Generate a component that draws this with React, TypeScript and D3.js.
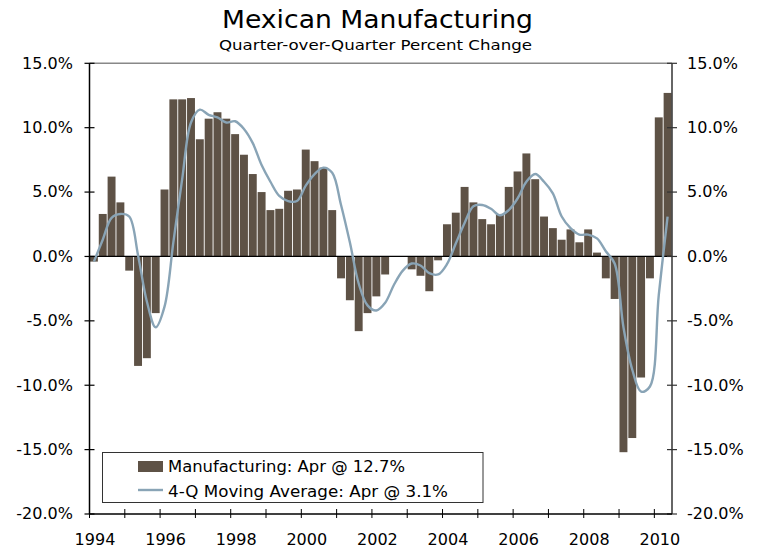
import React from 'react';
import * as d3 from 'd3';

const title = 'Mexican Manufacturing';
const subtitle = 'Quarter-over-Quarter Percent Change';
const startYear = 1994;
const xTickYears = [1994, 1996, 1998, 2000, 2002, 2004, 2006, 2008, 2010];
const minorTickYears = [1994, 1995, 1996, 1997, 1998, 1999, 2000, 2001, 2002, 2003, 2004, 2005, 2006, 2007, 2008, 2009, 2010];
const yTicks = [15, 10, 5, 0, -5, -10, -15, -20];
const legendLabels = ['Manufacturing: Apr @ 12.7%', '4-Q Moving Average: Apr @ 3.1%'];

// Quarterly values, 1994Q1 .. 2010Q2
const manufacturing = [
  -0.4, 3.3, 6.2, 4.2,
  -1.1, -8.5, -7.9, -4.4,
  5.2, 12.2, 12.2, 12.3,
  9.1, 10.7, 11.2, 10.7,
  9.5, 7.9, 6.4, 5.0,
  3.6, 3.7, 5.1, 5.2,
  8.3, 7.4, 6.9, 3.6,
  -1.7, -3.4, -5.8, -4.4,
  -3.1, -1.4, 0.0, 0.0,
  -1.0, -1.5, -2.7, -0.3,
  2.5, 3.4, 5.4, 4.2,
  2.9, 2.5, 3.3, 5.4,
  6.6, 8.0, 6.0, 3.1,
  2.2, 1.3, 2.1, 1.1,
  2.1, 0.3, -1.7, -3.3,
  -15.2, -14.1, -9.4, -1.7,
  10.8, 12.7,
];

const movingAverage = [
  -0.4, 1.3, 3.0, 3.3,
  3.1, 0.1, -3.5, -5.5,
  -3.9, 1.1, 6.0, 10.4,
  11.4, 11.0, 10.8, 10.4,
  10.5, 9.9, 8.8, 7.1,
  5.8, 4.7, 4.3, 4.3,
  5.5, 6.4, 6.9, 6.5,
  4.0, 1.1, -2.1, -3.8,
  -4.2, -3.6, -2.2, -1.1,
  -0.55, -0.7, -1.3, -1.4,
  -0.6, 1.0, 2.6, 3.9,
  4.0, 3.7, 3.2, 3.6,
  4.5, 5.8, 6.4, 5.8,
  4.9, 3.1, 2.2, 1.7,
  1.7, 1.4, 0.4, -0.55,
  -5.5, -8.8, -10.5, -10.1,
  -3.0, 3.1,
];

const BAR = '#5e5246';
const LINE = '#89a4b6';
const FONT = '"DejaVu Sans", Verdana, sans-serif';

export default function App() {
  const W = 761, H = 548;
  const left = 89.5, right = 672, top = 63.3, bottom = 514;
  const n = manufacturing.length;
  const x = d3.scaleLinear().domain([0, n]).range([left, right]);
  const y = d3.scaleLinear().domain([-20, 15]).range([bottom, top]);
  const bw = (right - left) / n;
  const lineGen = d3.line<number>()
    .x((_, i) => x(i + 0.5))
    .y((d) => y(d))
    .curve(d3.curveCatmullRom.alpha(0.5));
  const qx = (yr: number) => x((yr - startYear) * 4);
  const fmt = (v: number) => v.toFixed(1) + '%';
  const axisFont = 15;
  const axisSx = 1.07;

  return (
    <svg width={W} height={H} style={{ position: 'absolute', left: 0, top: 0, background: '#fff' }} fontFamily={FONT}>
      <rect x={0} y={0} width={W} height={H} fill="#fff" />
      <text x={222} y={28} fontSize={25} fill="#000" textLength={311} lengthAdjust="spacingAndGlyphs">{title}</text>
      <text x={219} y={49.5} fontSize={14.5} fill="#000" textLength={313} lengthAdjust="spacingAndGlyphs">{subtitle}</text>

      {/* top border */}
      <line x1={left} x2={right} y1={top} y2={top} stroke="#888" strokeWidth={1.5} />

      {/* bars */}
      {manufacturing.map((v, i) => (
        <rect key={i} x={x(i) + 0.45} width={bw - 0.9} y={Math.min(y(v), y(0))} height={Math.abs(y(v) - y(0))} fill={BAR} />
      ))}

      {/* zero line */}
      <line x1={left} x2={right} y1={y(0)} y2={y(0)} stroke="#000" strokeWidth={1.3} />

      {/* moving average */}
      <path d={lineGen(movingAverage) || ''} fill="none" stroke={LINE} strokeWidth={2.4} strokeLinejoin="round" />

      {/* left axis */}
      <line x1={left} x2={left} y1={top} y2={bottom} stroke="#000" strokeWidth={1.5} />
      {yTicks.map((t) => (
        <g key={'l' + t}>
          <line x1={left - 5} x2={left + 5} y1={y(t)} y2={y(t)} stroke="#000" strokeWidth={1.2} />
          <text transform={`translate(73,${y(t)}) scale(${axisSx},1)`} dy="0.36em" textAnchor="end" fontSize={axisFont} fill="#000">{fmt(t)}</text>
        </g>
      ))}

      {/* right axis */}
      <line x1={right} x2={right} y1={top} y2={bottom} stroke="#333" strokeWidth={1.5} />
      {yTicks.map((t) => (
        <g key={'r' + t}>
          <line x1={right - 5} x2={right + 5} y1={y(t)} y2={y(t)} stroke="#333" strokeWidth={1.2} />
          <text transform={`translate(687,${y(t)}) scale(${axisSx},1)`} dy="0.36em" textAnchor="start" fontSize={axisFont} fill="#000">{fmt(t)}</text>
        </g>
      ))}

      {/* bottom axis */}
      <line x1={left} x2={right} y1={bottom} y2={bottom} stroke="#000" strokeWidth={1.3} />
      {minorTickYears.map((yr) => (
        <line key={'m' + yr} x1={qx(yr)} x2={qx(yr)} y1={bottom - 5} y2={bottom + 4} stroke="#000" strokeWidth={1} />
      ))}
      {xTickYears.map((yr) => (
        <text key={'x' + yr} transform={`translate(${qx(yr) + 5.5},545) scale(${axisSx},1)`} textAnchor="middle" fontSize={axisFont} fill="#000">{yr}</text>
      ))}

      {/* legend */}
      <rect x={102.5} y={452.5} width={380.5} height={50} fill="#fff" stroke="#333" strokeWidth={1} />
      <rect x={138} y={461} width={25} height={11} fill={BAR} />
      <text x={168} y={471.5} fontSize={15} fill="#000" textLength={237} lengthAdjust="spacingAndGlyphs">{legendLabels[0]}</text>
      <line x1={138} x2={163} y1={490} y2={490} stroke={LINE} strokeWidth={2.4} />
      <text x={168} y={496.5} fontSize={15} fill="#000" textLength={280} lengthAdjust="spacingAndGlyphs">{legendLabels[1]}</text>
    </svg>
  );
}
